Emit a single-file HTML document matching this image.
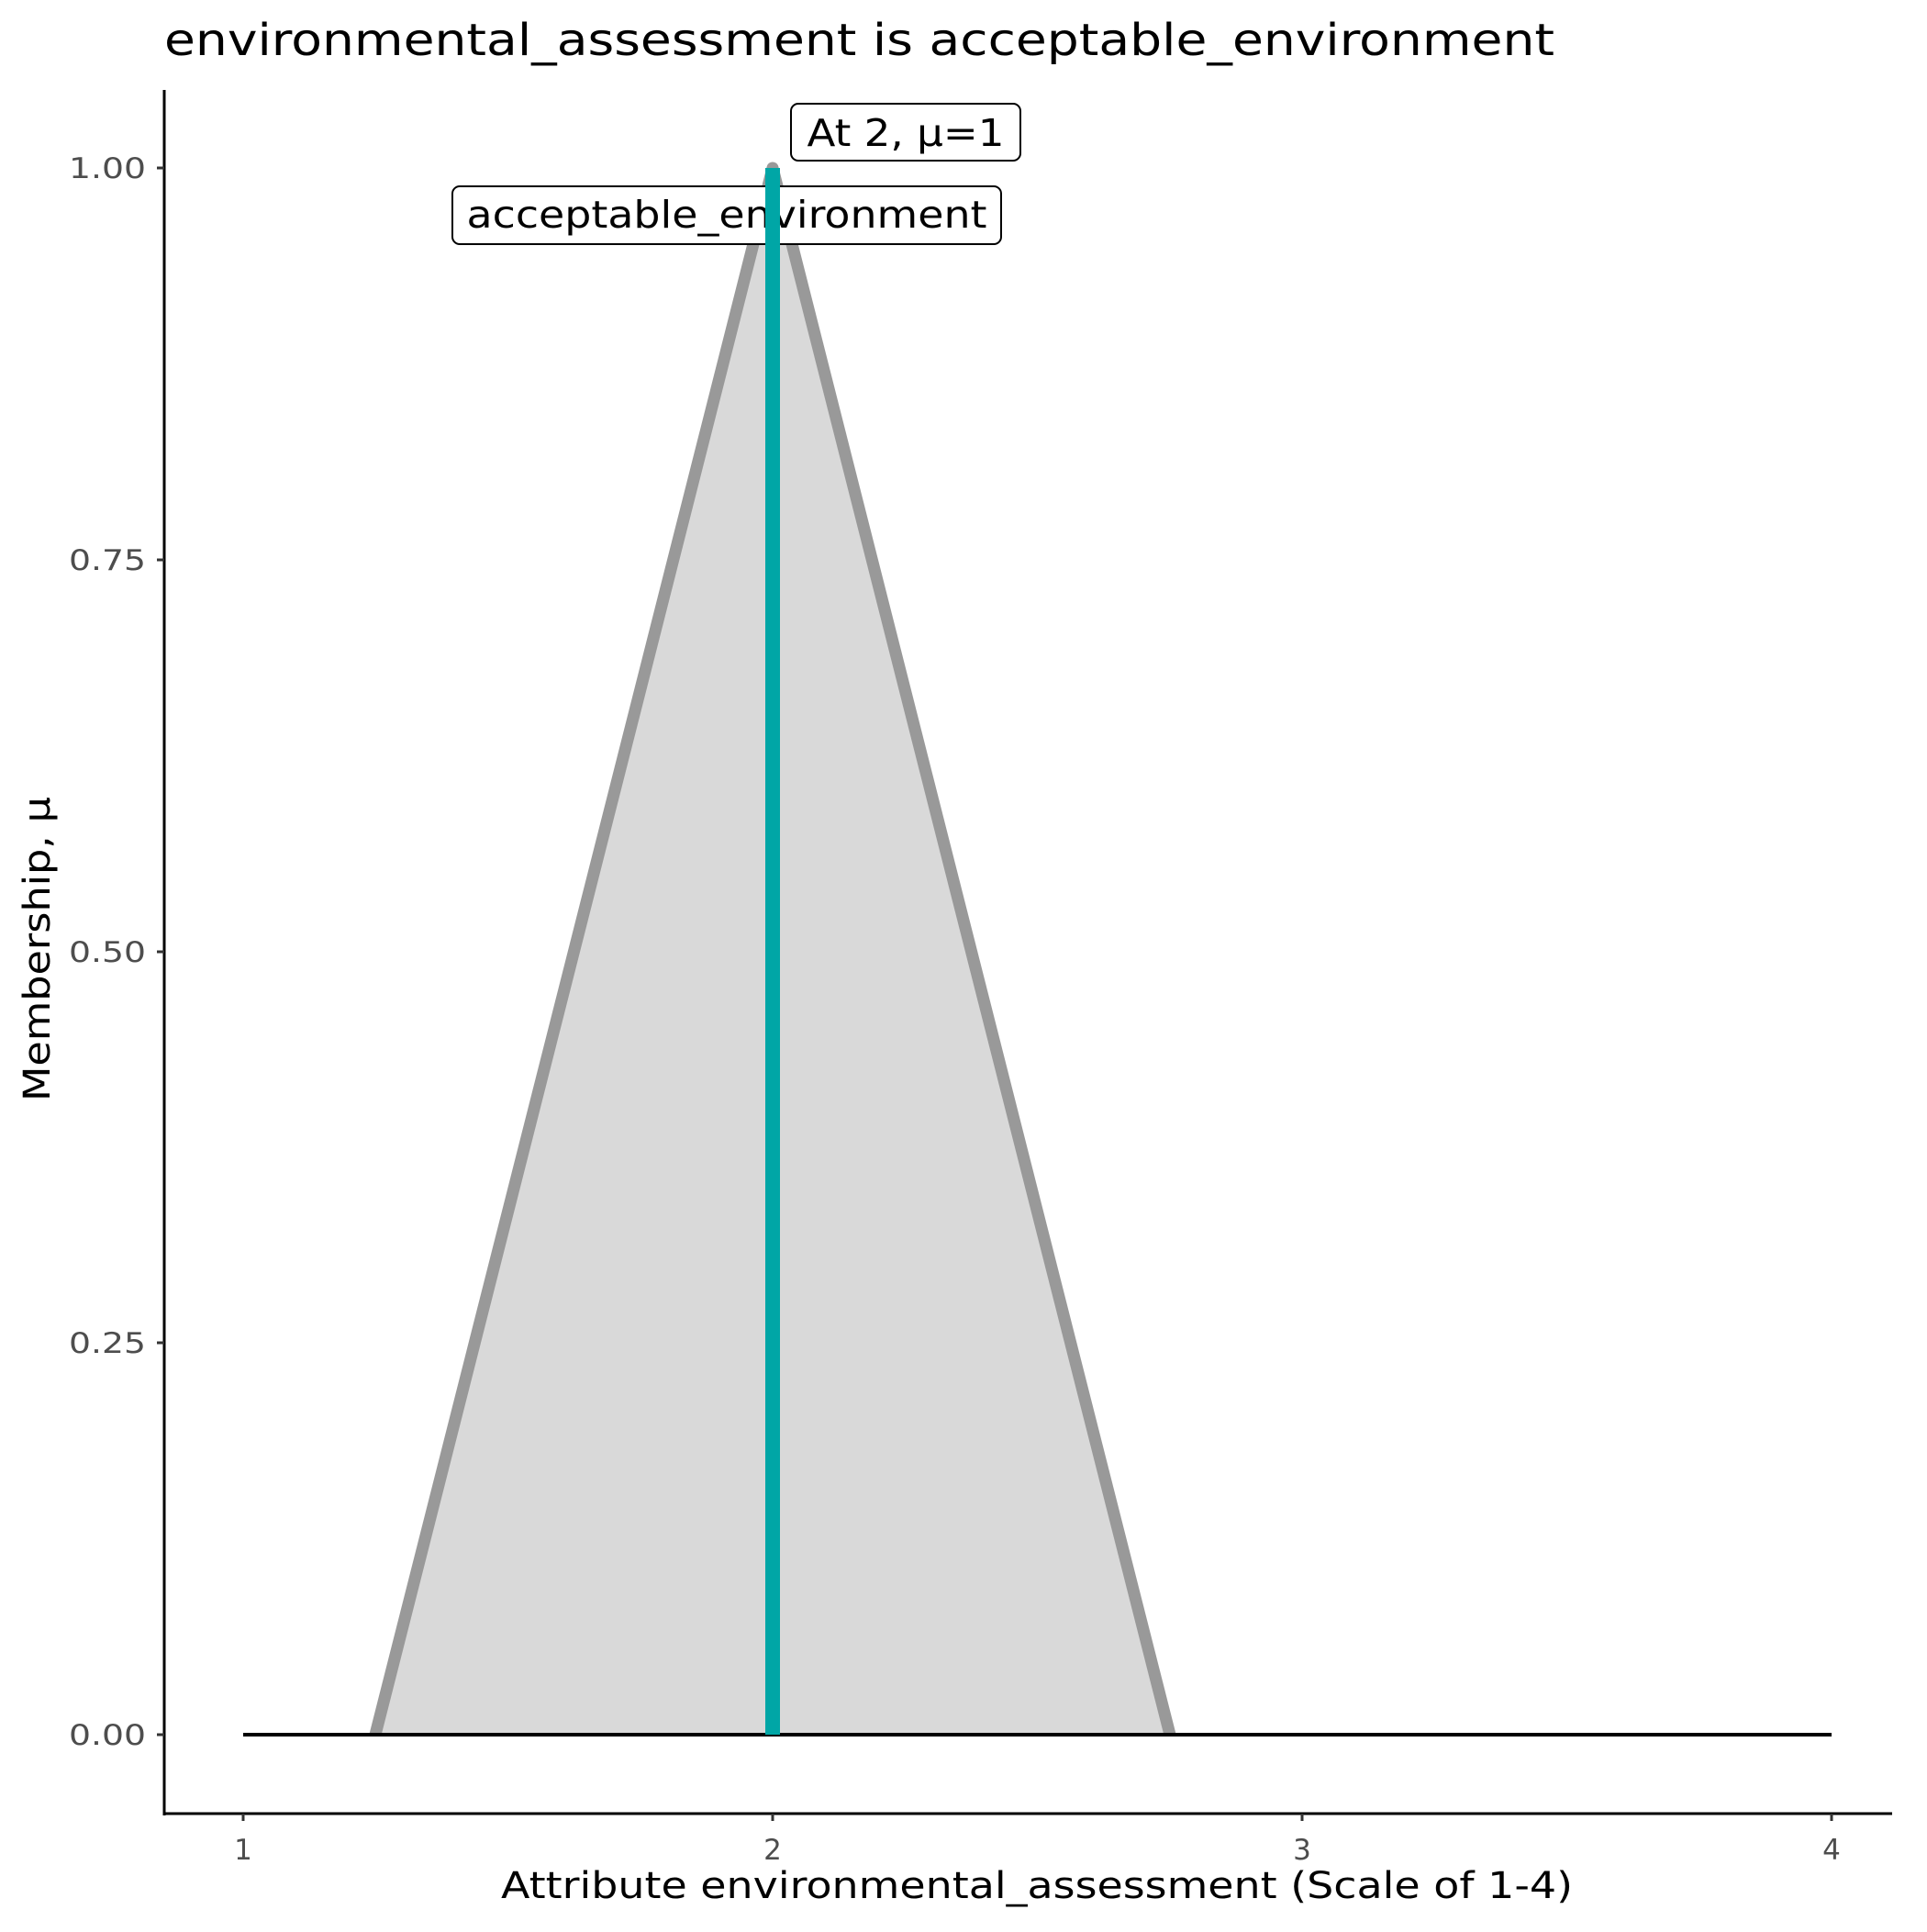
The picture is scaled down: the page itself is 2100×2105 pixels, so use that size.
<!DOCTYPE html>
<html><head><meta charset="utf-8"><style>body{margin:0;background:#fff}</style></head><body>
<svg width="2100" height="2100" viewBox="0 0 2100 2100" xmlns="http://www.w3.org/2000/svg" font-family="DejaVu Sans, Liberation Sans, sans-serif">
<rect width="2100" height="2100" fill="#fff"/>
<text x="179" y="60" font-size="48" textLength="1515" lengthAdjust="spacingAndGlyphs">environmental_assessment is acceptable_environment</text>
<polygon points="409,1890 842,183 1275,1890" fill="#d9d9d9"/>
<polyline points="409,1890 842,183 1275,1890" fill="none" stroke="#999" stroke-width="13" stroke-linejoin="round"/>
<line x1="265" y1="1890" x2="1996" y2="1890" stroke="#000" stroke-width="4"/>
<rect x="862" y="113" width="250" height="62" rx="8" fill="#fff" stroke="#000" stroke-width="2"/>
<text x="987" y="159" font-size="41" text-anchor="middle" textLength="215" lengthAdjust="spacingAndGlyphs">At 2, μ=1</text>
<rect x="493" y="203" width="598" height="63" rx="8" fill="#fff" stroke="#000" stroke-width="2"/>
<text x="792" y="248" font-size="41" text-anchor="middle" textLength="567" lengthAdjust="spacingAndGlyphs">acceptable_environment</text>
<line x1="842" y1="183" x2="842" y2="1890" stroke="#00a6a6" stroke-width="16"/>
<line x1="179" y1="98" x2="179" y2="1978" stroke="#000" stroke-width="3"/>
<line x1="178" y1="1976" x2="2062" y2="1976" stroke="#000" stroke-width="3"/>
<g stroke="#333" stroke-width="3">
<line x1="171" y1="183" x2="179" y2="183"/><line x1="171" y1="610" x2="179" y2="610"/><line x1="171" y1="1037" x2="179" y2="1037"/><line x1="171" y1="1463" x2="179" y2="1463"/><line x1="171" y1="1890" x2="179" y2="1890"/>
<line x1="265" y1="1976" x2="265" y2="1984"/><line x1="842" y1="1976" x2="842" y2="1984"/><line x1="1419" y1="1976" x2="1419" y2="1984"/><line x1="1996" y1="1976" x2="1996" y2="1984"/>
</g>
<g font-size="31" fill="#4d4d4d" text-anchor="end">
<text x="159" y="194" textLength="84" lengthAdjust="spacingAndGlyphs">1.00</text><text x="159" y="621" textLength="84" lengthAdjust="spacingAndGlyphs">0.75</text><text x="159" y="1048" textLength="84" lengthAdjust="spacingAndGlyphs">0.50</text><text x="159" y="1474" textLength="84" lengthAdjust="spacingAndGlyphs">0.25</text><text x="159" y="1901" textLength="84" lengthAdjust="spacingAndGlyphs">0.00</text>
</g>
<g font-size="31" fill="#4d4d4d" text-anchor="middle">
<text x="265" y="2026">1</text><text x="842" y="2026">2</text><text x="1419" y="2026">3</text><text x="1996" y="2026">4</text>
</g>
<text x="1130" y="2068" font-size="40" text-anchor="middle" textLength="1168" lengthAdjust="spacingAndGlyphs">Attribute environmental_assessment (Scale of 1-4)</text>
<text transform="translate(54,1034) rotate(-90)" font-size="40" text-anchor="middle" textLength="332" lengthAdjust="spacingAndGlyphs">Membership, μ</text>
</svg>
</body></html>
